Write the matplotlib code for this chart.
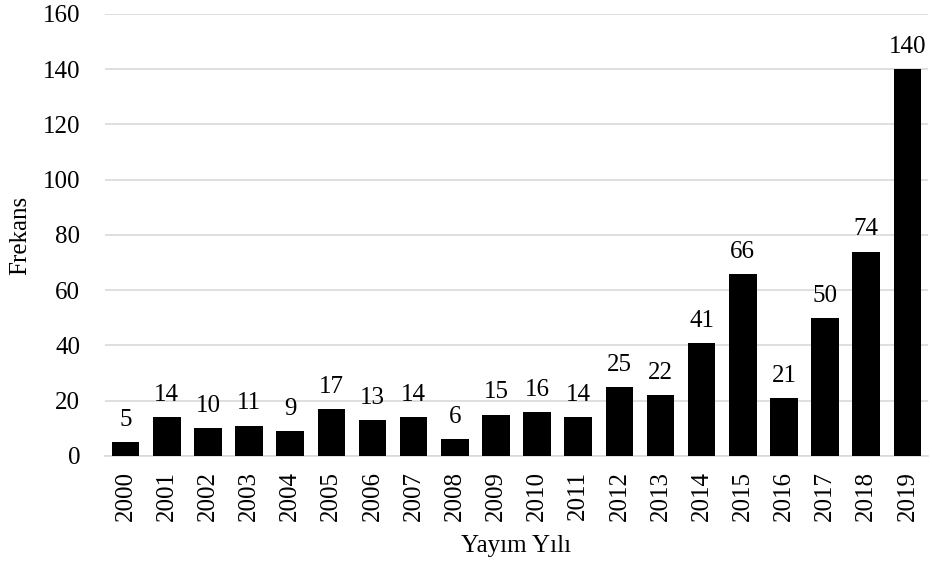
import matplotlib
matplotlib.use("Agg")
import matplotlib.pyplot as plt

plt.rcParams['font.family'] = ['Liberation Serif', 'DejaVu Serif']

years = ['2000', '2001', '2002', '2003', '2004', '2005', '2006', '2007', '2008', '2009',
         '2010', '2011', '2012', '2013', '2014', '2015', '2016', '2017', '2018', '2019']
counts = [5, 14, 10, 11, 9, 17, 13, 14, 6, 15, 16, 14, 25, 22, 41, 66, 21, 50, 74, 140]
yticks = [0, 20, 40, 60, 80, 100, 120, 140, 160]

fs = 18
fig = plt.figure(figsize=(9.32, 5.69), dpi=100)
ax = fig.add_axes([0.1127, 0.1986, 0.8830, 0.7768])

x = range(len(years))
ax.bar(x, counts, width=0.67, color='black', zorder=3)
for xi, v in zip(x, counts):
    ax.annotate(str(v), (xi, v), xytext=(0, 8), textcoords='offset points',
                ha='center', va='bottom', fontsize=fs)

ax.set_xlim(-0.5, len(years) - 0.5)
ax.set_ylim(0, 160)
ax.set_yticks(yticks)
ax.set_xticks(list(x))
ax.set_xticklabels(years, rotation=90, fontsize=fs)
ax.tick_params(axis='y', labelsize=fs, length=0, pad=18)
ax.tick_params(axis='x', length=0, pad=11)
ax.grid(axis='y', color='#d9d9d9', linewidth=1.2, zorder=0)
for s in ['top', 'right', 'left']:
    ax.spines[s].set_visible(False)
ax.spines['bottom'].set_color('#d9d9d9')
ax.spines['bottom'].set_linewidth(1.2)

ax.set_ylabel('Frekans', fontsize=fs, labelpad=8)
ax.set_xlabel('Yayım Yılı', fontsize=fs, labelpad=10)

fig.savefig('out.png', dpi=100)
